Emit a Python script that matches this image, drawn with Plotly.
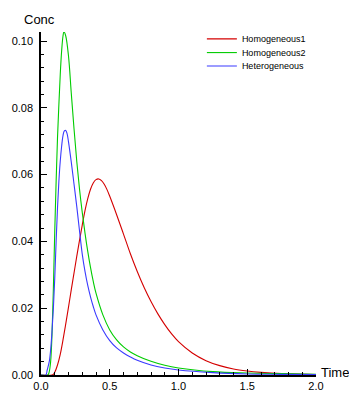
import plotly.graph_objects as go

# ---- data ----
t_h1 = [0, 0.08, 0.09, 0.10, 0.12, 0.14, 0.16, 0.18, 0.20, 0.22, 0.24, 0.26, 0.28, 0.30, 0.32, 0.34,
        0.36, 0.38, 0.40, 0.42, 0.44, 0.46, 0.48, 0.50, 0.55, 0.60, 0.65, 0.70, 0.75, 0.80, 0.85, 0.90,
        0.95, 1.0, 1.1, 1.2, 1.3, 1.4, 1.5, 1.6, 1.75, 2.0]
c_h1 = [0, 0, 0.0002, 0.0008, 0.003, 0.0062, 0.0105, 0.0153, 0.0203, 0.0255, 0.0305, 0.0355, 0.0403,
        0.0449, 0.0492, 0.0528, 0.0556, 0.0575, 0.0585, 0.0587, 0.0582, 0.0571, 0.0555, 0.0535, 0.0480,
        0.0422, 0.0363, 0.0310, 0.0262, 0.0220, 0.0183, 0.0151, 0.0123, 0.0100, 0.0066, 0.0043, 0.0028,
        0.0018, 0.0012, 0.0008, 0.0004, 0.0001]

t_h2 = [0, 0.05, 0.06, 0.07, 0.08, 0.09, 0.10, 0.11, 0.12, 0.13, 0.14, 0.15, 0.16, 0.167, 0.18, 0.20,
        0.22, 0.24, 0.26, 0.28, 0.30, 0.32, 0.34, 0.36, 0.38, 0.40, 0.45, 0.50, 0.55, 0.60, 0.65, 0.70,
        0.80, 0.90, 1.0, 1.25, 1.5, 1.75, 2.0]
c_h2 = [0, 0, 0.001, 0.004, 0.012, 0.026, 0.043, 0.058, 0.071, 0.081, 0.090, 0.097, 0.1015, 0.1028,
        0.1015, 0.0955, 0.0845, 0.0738, 0.0640, 0.0557, 0.0487, 0.0425, 0.0370, 0.0322, 0.0280, 0.0245,
        0.0180, 0.0135, 0.0105, 0.0084, 0.0069, 0.0058, 0.0041, 0.0029, 0.0021, 0.0010, 0.0006, 0.0004,
        0.0002]

t_het = [0, 0.035, 0.045, 0.06, 0.07, 0.08, 0.09, 0.10, 0.11, 0.12, 0.13, 0.14, 0.15, 0.16, 0.17, 0.18,
         0.19, 0.20, 0.22, 0.24, 0.26, 0.28, 0.30, 0.32, 0.34, 0.36, 0.38, 0.40, 0.45, 0.50, 0.55, 0.60,
         0.65, 0.70, 0.80, 0.90, 1.0, 1.25, 1.5, 1.75, 2.0]
c_het = [0, 0, 0.0015, 0.004, 0.0075, 0.013, 0.020, 0.029, 0.040, 0.050, 0.058, 0.064, 0.0685, 0.0717,
         0.0731, 0.0732, 0.0722, 0.0698, 0.0638, 0.0572, 0.0505, 0.0432, 0.0362, 0.0310, 0.0268, 0.0234,
         0.0205, 0.0180, 0.0135, 0.0103, 0.0081, 0.0066, 0.0054, 0.0044, 0.0030, 0.0021, 0.0015, 0.0007,
         0.0003, 0.0002, 0.0001]

names = ["Homogeneous1", "Homogeneous2", "Heterogeneous"]
colors = ["#d40000", "#00cc00", "#3a3aff"]
legend_ids = ["legend", "legend2", "legend3"]

font = "Liberation Sans, Arial, sans-serif"

fig = go.Figure()
for (tx, cy, nm, col, lg) in [(t_h1, c_h1, names[0], colors[0], legend_ids[0]),
                              (t_h2, c_h2, names[1], colors[1], legend_ids[1]),
                              (t_het, c_het, names[2], colors[2], legend_ids[2])]:
    fig.add_trace(go.Scatter(x=tx, y=cy, mode="lines", name=nm, legend=lg,
                             line=dict(color=col, width=1.1, shape="spline", smoothing=1.0)))

# the page body has an 8px default margin, so the figure is sized/offset to compensate
leg_common = dict(x=0.585, xanchor="left", yanchor="middle", bgcolor="rgba(0,0,0,0)",
                  font=dict(size=9, family=font), borderwidth=0)
fig.update_layout(
    width=349, height=388,
    margin=dict(l=33, r=41, t=24, b=21, autoexpand=False),
    plot_bgcolor="white", paper_bgcolor="white",
    font=dict(family=font, size=11, color="black"),
    showlegend=True,
    legend=dict(y=0.980, **leg_common),
    legend2=dict(y=0.940, **leg_common),
    legend3=dict(y=0.901, **leg_common),
    xaxis=dict(range=[0, 2.0], showgrid=False, zeroline=False, showline=True, linecolor="black",
               linewidth=1.5, ticks="inside", ticklen=6, tickwidth=1.3, tickcolor="black",
               dtick=0.5, tick0=0, tickformat=".1f", automargin=False,
               minor=dict(dtick=0.1, ticks="inside", ticklen=3, tickcolor="black", tickwidth=1)),
    yaxis=dict(range=[0, 0.1027], showgrid=False, zeroline=False, showline=True, linecolor="black",
               linewidth=1.5, ticks="inside", ticklen=6, tickwidth=1.3, tickcolor="black",
               dtick=0.02, tick0=0, tickformat=".2f", ticklabelstandoff=4, automargin=False,
               minor=dict(dtick=0.004, ticks="inside", ticklen=3, tickcolor="black", tickwidth=1)),
    annotations=[
        dict(text="Conc", xref="paper", yref="paper", x=-0.07, y=1.0, xanchor="left", yanchor="bottom",
             showarrow=False, font=dict(size=13, family=font), yshift=3),
        dict(text="Time", xref="paper", yref="paper", x=1.0, y=0.0, xanchor="left", yanchor="middle",
             showarrow=False, font=dict(size=13, family=font), xshift=3, yshift=3),
    ],
)

fig.write_html("out.html")
